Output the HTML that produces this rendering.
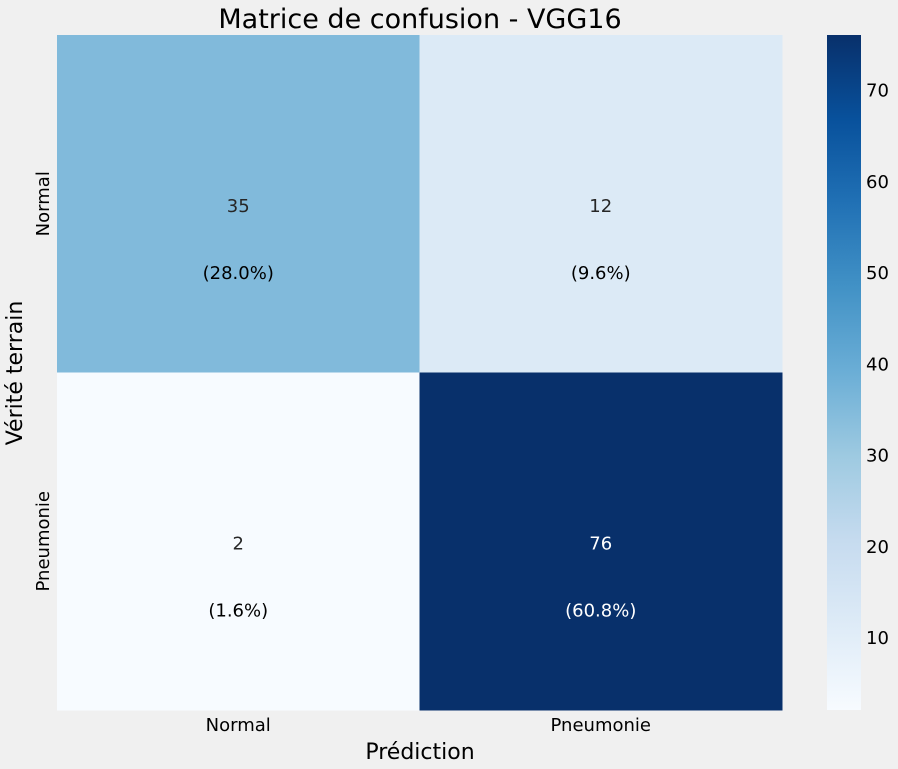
<!DOCTYPE html>
<html><head><meta charset="utf-8">
<style>
html,body{margin:0;padding:0;background:#f0f0f0;}
svg{display:block;font-family:"DejaVu Sans","Liberation Sans",sans-serif;}
</style></head>
<body>
<svg id="chart" width="898" height="769">
<rect width="898" height="769" fill="#f0f0f0"/>
<text x="420" y="28" text-anchor="middle" font-size="27" fill="#000">Matrice de confusion - VGG16</text>
<text x="420" y="759" text-anchor="middle" font-size="22" fill="#000">Prédiction</text>
<text transform="translate(22,373) rotate(-90)" text-anchor="middle" font-size="22" fill="#000">Vérité terrain</text>
<defs>
<linearGradient id="blues" x1="0" y1="1" x2="0" y2="0">
<stop offset="0" stop-color="#f7fbff"/><stop offset="0.125" stop-color="#deebf7"/>
<stop offset="0.25" stop-color="#c6dbef"/><stop offset="0.375" stop-color="#9ecae1"/>
<stop offset="0.5" stop-color="#6baed6"/><stop offset="0.625" stop-color="#4292c6"/>
<stop offset="0.75" stop-color="#2171b5"/><stop offset="0.875" stop-color="#08519c"/>
<stop offset="1" stop-color="#08306b"/>
</linearGradient>
</defs>
<g id="cells"></g>
<g id="cbar"></g>
</svg>
<script>
const categories = ["Normal", "Pneumonie"];
const counts = [[35, 12], [2, 76]];
const percents = ["(28.0%)", "(9.6%)", "(1.6%)", "(60.8%)"];
const cbarTicks = [10, 20, 30, 40, 50, 60, 70];

const NS = "http://www.w3.org/2000/svg";
const X0 = 57, X1 = 782, Y0 = 35, Y1 = 710;
const flat = counts.flat();
const vmin = Math.min(...flat), vmax = Math.max(...flat);
const stops = ["#f7fbff","#deebf7","#c6dbef","#9ecae1","#6baed6","#4292c6","#2171b5","#08519c","#08306b"];
function hex(h){return [1,3,5].map(i=>parseInt(h.substr(i,2),16));}
function cmap(v){
  let t = (v - vmin) / (vmax - vmin); t = Math.max(0, Math.min(1, t));
  const p = t * 8, i = Math.min(7, Math.floor(p)), f = p - i;
  const a = hex(stops[i]), b = hex(stops[i+1]);
  return "rgb(" + a.map((c,k)=>Math.round(c + (b[k]-c)*f)).join(",") + ")";
}
const nC = categories.length;
const cw = (X1 - X0) / nC, ch = (Y1 - Y0) / nC;
const xPos = j => X0 + j * cw;
const yPos = i => Y0 + i * ch;
function mk(tag, attrs, parent){const e=document.createElementNS(NS,tag);for(const k in attrs)e.setAttribute(k,attrs[k]);parent.appendChild(e);return e;}
const cells = document.getElementById("cells");
const svg = document.getElementById("chart");
for (let i = 0; i < nC; i++) {
  for (let j = 0; j < nC; j++) {
    const v = counts[i][j];
    const r = mk("rect", {x: xPos(j), y: yPos(i), width: cw + 0.5, height: ch + 0.5, fill: cmap(v)}, cells);
    
    
    const t = (v - vmin) / (vmax - vmin);
    const col = t > 0.6 ? "#ffffff" : "#262626";
    const cx = xPos(j) + cw / 2, cy = yPos(i) + ch / 2;
    const t1 = mk("text", {x: cx, y: cy + 8, "text-anchor": "middle", "font-size": 18, fill: col}, cells);
    t1.textContent = v;
    
    
    const t2 = mk("text", {x: cx, y: cy + 75, "text-anchor": "middle", "font-size": 18, fill: t > 0.6 ? "#ffffff" : "#000"}, cells);
    t2.textContent = percents[i * nC + j];
    
    
  }
}
categories.forEach((c, j) => {
  const t = mk("text", {x: xPos(j) + cw / 2, y: 731, "text-anchor": "middle", "font-size": 18, fill: "#000"}, svg);
  t.textContent = c;
  
  
  const yt = mk("text", {transform: "translate(49," + (yPos(j) + ch / 2) + ") rotate(-90)", "text-anchor": "middle", "font-size": 18, fill: "#000"}, svg);
  yt.textContent = c;
  
  
});
const cb = document.getElementById("cbar");
const CBX = 827, CBW = 34;
const cbY = v => Y1 - (v - vmin) / (vmax - vmin) * (Y1 - Y0);
const bar = mk("rect", {x: CBX, y: Y0, width: CBW, height: Y1 - Y0, fill: "url(#blues)"}, cb);


cbarTicks.forEach(v => {
  const t = mk("text", {x: 866, y: cbY(v) + 7, "font-size": 18, fill: "#000"}, cb);
  t.textContent = v;
  
  
});
</script>
</body></html>
